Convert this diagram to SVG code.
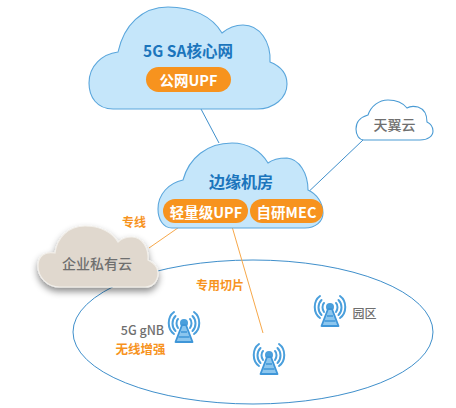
<svg xmlns="http://www.w3.org/2000/svg" width="456" height="408" viewBox="0 0 456 408">
<style>
.t{font-family:"Noto Sans CJK SC","Noto Sans",sans-serif;text-anchor:middle;dominant-baseline:central}
.b{font-weight:700}
.m{font-weight:500}
.w{fill:#fff;font-weight:700;font-size:14.500px}
.blue{fill:#1b75bc}
.or{fill:#f7931e;font-weight:700;font-size:12px}
.g{fill:#6f6f6f}
.cl{fill:#c5e6fa;stroke:#5aa6dc;stroke-width:1.1}
.pill{fill:#f7931e}
.ln{fill:none;stroke:#3f8fcb;stroke-width:1}
.lo{fill:none;stroke:#f7a84a;stroke-width:1}
</style>
<defs>
<filter id="sh" x="-20%" y="-20%" width="140%" height="150%"><feDropShadow dx="0" dy="4" stdDeviation="3.5" flood-color="#000" flood-opacity=".45"/></filter>
<g id="tower">
<g fill="none" stroke="#4a9fdc" stroke-linecap="round" stroke-width="2">
<path d="M6 2C-1 7 -1 19 6 24"/>
<path d="M7.500 6C3.500 10 3.500 17 7.500 21"/>
<path d="M10 9C8 11 8 15 10 18"/>
<path d="M26 2C33 7 33 19 26 24"/>
<path d="M24.500 6C28.500 10 28.500 17 24.500 21"/>
<path d="M22 9C24 11 24 15 22 18"/>
</g>
<circle cx="16" cy="13" r="4" fill="#4a9fdc"/>
<path d="M14 15L7.500 32L24.500 32L18 15Z" fill="#8cc6ee" stroke="#3f96d8" stroke-width="1.8" stroke-linejoin="round"/>
<path d="M13 22H19M10.500 27H21.500" stroke="#3f96d8" stroke-width="1.6"/>
</g>
</defs>
<g id="campus"><ellipse class="ln" cx="253" cy="332" rx="180" ry="72"/></g>
<g id="connectors">
<path class="ln" d="M192 92L219 143"/>
<path class="ln" d="M363 140L302 198"/>
<path class="lo" d="M185 223L149 248"/>
<path class="lo" d="M231 223L263 333"/>
</g>
<g id="core">
<path class="cl" d="M113 109C97 109 89 97 89 83C89 66 102 54 118 52C124 25 142 7 168 7C192 7 212 16 222 33C228 28 235 25 243 25C260 25 271 42 270 62C280 66 287 73 287 84C287 98 274 109 257 109Z"/>
<text class="t b blue" x="188" y="50" font-size="15.500">5G SA核心网</text>
<rect class="pill" x="146" y="67" width="85" height="25" rx="12.500"/>
<text class="t w" x="188.500" y="79.500">公网UPF</text>
</g>
<g id="edge">
<path class="cl" d="M172 228C163 228 158 219 158 209C158 194 169 183 183 180C189 158 207 143 232 143C248 143 261 151 268 163C273 159 280 158 287 158C299 159 308 173 308 190C317 194 323 203 323 213C323 222 315 228 305 228Z"/>
<text class="t b blue" x="241" y="181" font-size="16">边缘机房</text>
<rect class="pill" x="163" y="199" width="85" height="24" rx="12"/>
<text class="t w" x="206" y="211">轻量级UPF</text>
<rect class="pill" x="250" y="199" width="73" height="24" rx="12"/>
<text class="t w" x="286.500" y="211">自研MEC</text>
</g>
<g id="enterprise">
<path d="M60 287C47 287 38 277 38 266C38 256 45 251 55 253C57 238 68 226 85 226C100 226 112 232 118 242C122 238 127 237 132 237C142 237 149 248 148 260C154 263 158 267 158 273C158 281 153 287 145 287Z" fill="#e0d8ce" stroke="#f2efea" stroke-width="1.200" filter="url(#sh)"/>
<text class="t g m" x="97" y="263" font-size="14">企业私有云</text>
</g>
<g id="tianyi">
<path d="M364 140C359 140 356 135 356 129C356 122 361 117 368 115C371 106 379 100 388 100C396 100 403 103 407 108C410 106 414 106 418 107C424 109 427 115 427 122C431 124 433 127 433 131C433 136 428 140 420 140Z" fill="#fff" stroke="#4a9bd4" stroke-width="1.100"/>
<text class="t g m" x="394.500" y="124" font-size="14">天翼云</text>
</g>
<g id="gnb">
<use href="#tower" x="168" y="310"/>
<text class="t g m" x="142.500" y="329" font-size="12.500">5G gNB</text>
<text class="t or" x="140.500" y="348" style="font-size:12.500px">无线增强</text>
</g>
<g id="site"><use href="#tower" x="253" y="342"/></g>
<g id="park">
<use href="#tower" x="314" y="294"/>
<text class="t g m" x="364.500" y="312" font-size="12">园区</text>
</g>
<g id="labels">
<text class="t or" x="134" y="221">专线</text>
<text class="t or" x="220" y="284">专用切片</text>
</g>
</svg>
